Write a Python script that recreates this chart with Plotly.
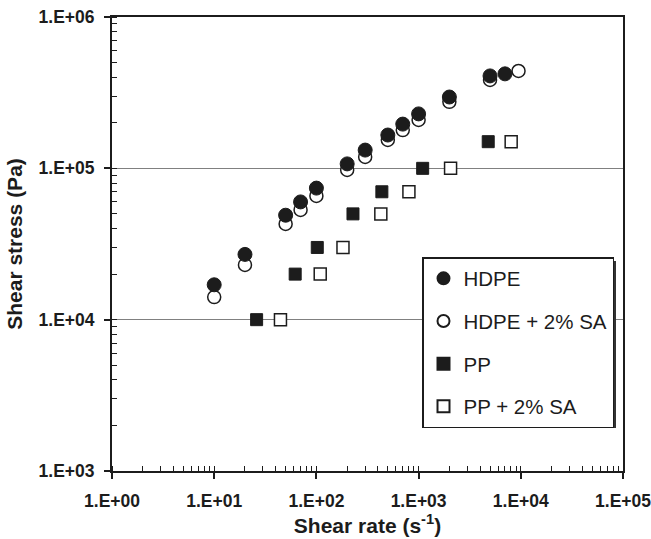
import plotly.graph_objects as go

# ---- data ----
hdpe_x = [10, 20, 50, 70, 100, 200, 300, 500, 700, 1000, 2000, 5000, 7000]
hdpe_y = [17000, 27000, 49000, 60000, 74000, 107000, 132000, 166000, 196000, 229000, 296000, 408000, 421000]

hdpe_sa_x = [10, 20, 50, 70, 100, 200, 300, 500, 700, 1000, 2000, 5000, 9500]
hdpe_sa_y = [14100, 23000, 42900, 53100, 65700, 97600, 119000, 154000, 179000, 209000, 275000, 384000, 440000]

pp_x = [26, 62, 102, 228, 437, 1096, 4800]
pp_y = [10000, 20000, 30000, 50000, 70000, 100000, 150000]

pp_sa_x = [44.5, 109, 182, 427, 804, 2055, 8050]
pp_sa_y = [10000, 20000, 30000, 50000, 70000, 100000, 150000]

x_tickvals = [1, 10, 100, 1000, 10000, 100000]
x_ticktext = ["1.E+00", "1.E+01", "1.E+02", "1.E+03", "1.E+04", "1.E+05"]
y_tickvals = [1000, 10000, 100000, 1000000]
y_ticktext = ["1.E+03", "1.E+04", "1.E+05", "1.E+06"]

series_names = ["HDPE", "HDPE + 2% SA", "PP", "PP + 2% SA"]

DARK = "#1c1c1c"
FONT = "Liberation Sans, Arial, sans-serif"

fig = go.Figure()
# open markers drawn first so the filled ones sit on top
fig.add_trace(go.Scatter(x=hdpe_sa_x, y=hdpe_sa_y, mode="markers", name=series_names[1],
                         legendgroup="b", legendrank=2,
                         marker=dict(symbol="circle", size=13, color="white", line=dict(color=DARK, width=1.5))))
fig.add_trace(go.Scatter(x=hdpe_x, y=hdpe_y, mode="markers", name=series_names[0],
                         legendgroup="a", legendrank=1,
                         marker=dict(symbol="circle", size=14, color=DARK, line=dict(color=DARK, width=1))))
fig.add_trace(go.Scatter(x=pp_sa_x, y=pp_sa_y, mode="markers", name=series_names[3],
                         legendgroup="d", legendrank=4,
                         marker=dict(symbol="square", size=12, color="white", line=dict(color=DARK, width=1.5))))
fig.add_trace(go.Scatter(x=pp_x, y=pp_y, mode="markers", name=series_names[2],
                         legendgroup="c", legendrank=3,
                         marker=dict(symbol="square", size=12, color=DARK, line=dict(color=DARK, width=1))))

axis_common = dict(
    type="log",
    showline=True, linecolor=DARK, linewidth=2, mirror=True,
    ticks="outside", ticklen=6, tickwidth=1.5, tickcolor=DARK,
    tickfont=dict(family=FONT, size=17.5, color=DARK, weight="bold"),
    minor=dict(ticks="inside", ticklen=5, tickwidth=1, tickcolor=DARK, dtick="D1", showgrid=False),
    zeroline=False,
    ticklabeloverflow="allow",
    automargin=False,
)

fig.update_xaxes(**axis_common, range=[0, 5], tickvals=x_tickvals, ticktext=x_ticktext,
                 showgrid=False, ticklabelstandoff=7,
                 title=dict(text="Shear rate (s<sup>-1</sup>)", standoff=5,
                            font=dict(family=FONT, size=21, color=DARK, weight="bold")))
fig.update_yaxes(**axis_common, range=[3, 6], tickvals=y_tickvals, ticktext=y_ticktext,
                 showgrid=True, gridcolor="#808080", gridwidth=1, ticklabelstandoff=6,
                 title=dict(text="Shear stress (Pa)", standoff=10,
                            font=dict(family=FONT, size=21, color=DARK, weight="bold")))

# legend shadow (paper coords)
pw, ph = 511.0, 454.0
def px_to_paper_x(p):
    return (p - 112) / pw
def px_to_paper_y(p):
    return (471 - p) / ph

fig.add_shape(type="rect", xref="paper", yref="paper",
              x0=px_to_paper_x(426), x1=px_to_paper_x(616),
              y0=px_to_paper_y(428), y1=px_to_paper_y(261),
              fillcolor="#333333", line=dict(width=0), layer="above")

fig.update_layout(
    width=651, height=539,
    margin=dict(l=112, r=28, t=17, b=68),
    paper_bgcolor="white", plot_bgcolor="white",
    showlegend=True,
    legend=dict(x=px_to_paper_x(422), y=px_to_paper_y(257), xanchor="left", yanchor="top",
                bgcolor="white", bordercolor=DARK, borderwidth=1.5,
                font=dict(family=FONT, size=20.5, color=DARK),
                tracegroupgap=13, traceorder="grouped", itemsizing="constant"),
    font=dict(family=FONT, color=DARK),
)

fig.write_html("out.html")
